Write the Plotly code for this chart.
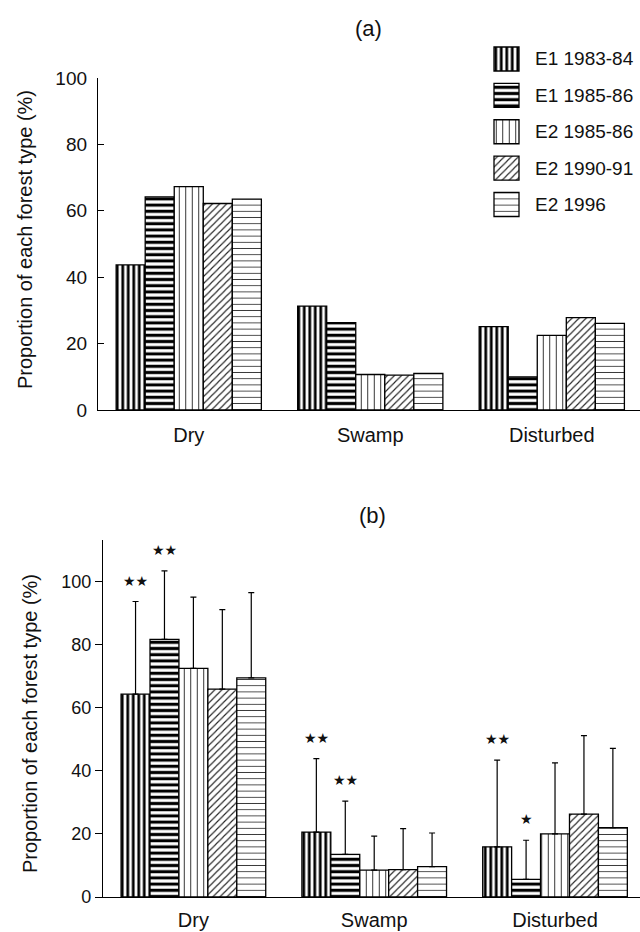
import plotly.graph_objects as go

# ---------------- data ----------------
categories = ["Dry", "Swamp", "Disturbed"]
series_names = ["E1 1983-84", "E1 1985-86", "E2 1985-86", "E2 1990-91", "E2 1996"]

# panel (a): proportion of each forest type (%)
a_e1_8384 = [43.7, 31.3, 25.1]
a_e1_8586 = [64.2, 26.3, 10.0]
a_e2_8586 = [67.3, 10.7, 22.5]
a_e2_9091 = [62.2, 10.5, 27.8]
a_e2_1996 = [63.5, 11.0, 26.1]

# panel (b): means
b_e1_8384 = [64.3, 20.6, 15.9]
b_e1_8586 = [81.7, 13.5, 5.6]
b_e2_8586 = [72.5, 8.5, 20.0]
b_e2_9091 = [65.9, 8.7, 26.3]
b_e2_1996 = [69.5, 9.6, 22.0]

# panel (b): upper error (SD)
sd_e1_8384 = [29.4, 23.3, 27.5]
sd_e1_8586 = [21.7, 16.9, 12.4]
sd_e2_8586 = [22.6, 10.8, 22.5]
sd_e2_9091 = [25.2, 13.0, 24.9]
sd_e2_1996 = [27.0, 10.7, 25.1]

# significance marks
sig_e1_8384 = ["**", "**", "**"]
sig_e1_8586 = ["**", "**", "*"]
sig_e2_8586 = ["", "", ""]
sig_e2_9091 = ["", "", ""]
sig_e2_1996 = ["", "", ""]

y_ticks = [0, 20, 40, 60, 80, 100]

a_vals = [a_e1_8384, a_e1_8586, a_e2_8586, a_e2_9091, a_e2_1996]
b_vals = [b_e1_8384, b_e1_8586, b_e2_8586, b_e2_9091, b_e2_1996]
b_sds = [sd_e1_8384, sd_e1_8586, sd_e2_8586, sd_e2_9091, sd_e2_1996]
sigs = [sig_e1_8384, sig_e1_8586, sig_e2_8586, sig_e2_9091, sig_e2_1996]

# ---------------- styling ----------------
W, H = 640, 932
FONT = "Liberation Sans, Arial, Helvetica, sans-serif"
INK = "#111111"

patterns = [
    dict(shape="|", size=5.5, solidity=0.5, fgcolor="black", bgcolor="white", fillmode="replace"),
    dict(shape="-", size=6.2, solidity=0.5, fgcolor="black", bgcolor="white", fillmode="replace"),
    dict(shape="|", size=6.5, solidity=0.14, fgcolor="#222222", bgcolor="white", fillmode="replace"),
    dict(shape="/", size=5, solidity=0.22, fgcolor="#222222", bgcolor="white", fillmode="replace"),
    dict(shape="-", size=6.2, solidity=0.14, fgcolor="#333333", bgcolor="white", fillmode="replace"),
]


def fx(p):
    return p / W


def fy(p):
    return 1 - p / H


fig = go.Figure()

for i, name in enumerate(series_names):
    fig.add_trace(go.Bar(
        x=categories, y=a_vals[i], name=name, showlegend=False,
        xaxis="x", yaxis="y",
        marker=dict(color="white", pattern=patterns[i],
                    line=dict(color="black", width=1.3)),
    ))
    fig.add_trace(go.Bar(
        x=categories, y=b_vals[i], name=name, showlegend=False,
        xaxis="x2", yaxis="y2",
        marker=dict(color="white", pattern=patterns[i],
                    line=dict(color="black", width=1.3)),
        error_y=dict(type="data", symmetric=False, array=b_sds[i],
                     arrayminus=[0] * len(categories),
                     color="black", thickness=1.2, width=3),
    ))
    # custom legend swatch
    fig.add_trace(go.Bar(
        x=[1], y=[i], orientation="h", width=0.66, showlegend=False,
        xaxis="x3", yaxis="y3", hoverinfo="skip",
        marker=dict(color="white", pattern=patterns[i],
                    line=dict(color="black", width=1.3)),
    ))

annotations = []
# legend labels
for i, name in enumerate(series_names):
    annotations.append(dict(
        x=fx(533), xref="paper", y=i, yref="y3", text=name,
        xanchor="left", yanchor="middle", showarrow=False,
        font=dict(family=FONT, size=19, color=INK),
    ))

# significance stars
n = len(series_names)
bw = 0.8 / n
for i in range(n):
    off = -0.4 + bw / 2 + bw * i
    for j in range(len(categories)):
        s = sigs[i][j]
        if s:
            annotations.append(dict(
                x=j + off, xref="x2", y=b_vals[i][j] + b_sds[i][j], yref="y2",
                text=s.replace("*", "★"), showarrow=False,
                xanchor="center", yanchor="middle", yshift=21,
                font=dict(family="DejaVu Sans", size=14, color=INK),
            ))

# panel titles
annotations.append(dict(x=fx(368), y=fy(28), xref="paper", yref="paper", text="(a)",
                        showarrow=False, xanchor="center", yanchor="middle",
                        font=dict(family=FONT, size=22, color=INK)))
annotations.append(dict(x=fx(372), y=fy(515), xref="paper", yref="paper", text="(b)",
                        showarrow=False, xanchor="center", yanchor="middle",
                        font=dict(family=FONT, size=22, color=INK)))
# y-axis titles
ytitle = "Proportion of each forest type (%)"
annotations.append(dict(x=fx(25), y=fy(240), xref="paper", yref="paper", text=ytitle,
                        textangle=-90, showarrow=False, xanchor="center", yanchor="middle",
                        font=dict(family=FONT, size=20, color=INK)))
annotations.append(dict(x=fx(30), y=fy(724), xref="paper", yref="paper", text=ytitle,
                        textangle=-90, showarrow=False, xanchor="center", yanchor="middle",
                        font=dict(family=FONT, size=20, color=INK)))

axis_common = dict(showgrid=False, zeroline=False, showline=True, automargin=False,
                   linecolor="black", linewidth=1.3)

fig.update_layout(
    width=W, height=H, autosize=False,
    margin=dict(l=0, r=0, t=0, b=0, pad=0, autoexpand=False),
    paper_bgcolor="white", plot_bgcolor="white",
    barmode="group", bargap=0.2, bargroupgap=0.0,
    font=dict(family=FONT, color=INK),
    showlegend=False,
    xaxis=dict(domain=[fx(98), 1.0], range=[-0.5, 2.486], type="category",
               anchor="y", ticks="", ticklabelstandoff=7,
               tickfont=dict(size=20, color=INK), **axis_common),
    yaxis=dict(domain=[fy(410), fy(78)], range=[0, 100], anchor="x",
               tickvals=y_ticks, ticks="inside", ticklen=6, tickwidth=1.3,
               ticklabelstandoff=6,
               tickcolor="black", tickfont=dict(size=19, color=INK), **axis_common),
    xaxis2=dict(domain=[fx(103), 1.0], range=[-0.5, 2.47], type="category",
                anchor="y2", ticks="", ticklabelstandoff=5,
                tickfont=dict(size=20, color=INK), **axis_common),
    yaxis2=dict(domain=[fy(897), fy(540)], range=[0, 113.2], anchor="x2",
                tickvals=y_ticks, ticks="outside", ticklen=7, tickwidth=1.3,
                tickcolor="black", tickfont=dict(size=18, color=INK), **axis_common),
    xaxis3=dict(domain=[fx(493), fx(520)], range=[-0.04, 1.04], anchor="y3",
                visible=False, fixedrange=True),
    yaxis3=dict(domain=[fy(222.7), fy(40.8)], range=[4.5, -0.5], anchor="x3",
                visible=False, fixedrange=True),
    annotations=annotations,
)

fig.write_html(
    "out.html",
    config={"displayModeBar": False},
    post_script="document.body.style.margin='0';document.body.style.overflow='hidden';",
)
